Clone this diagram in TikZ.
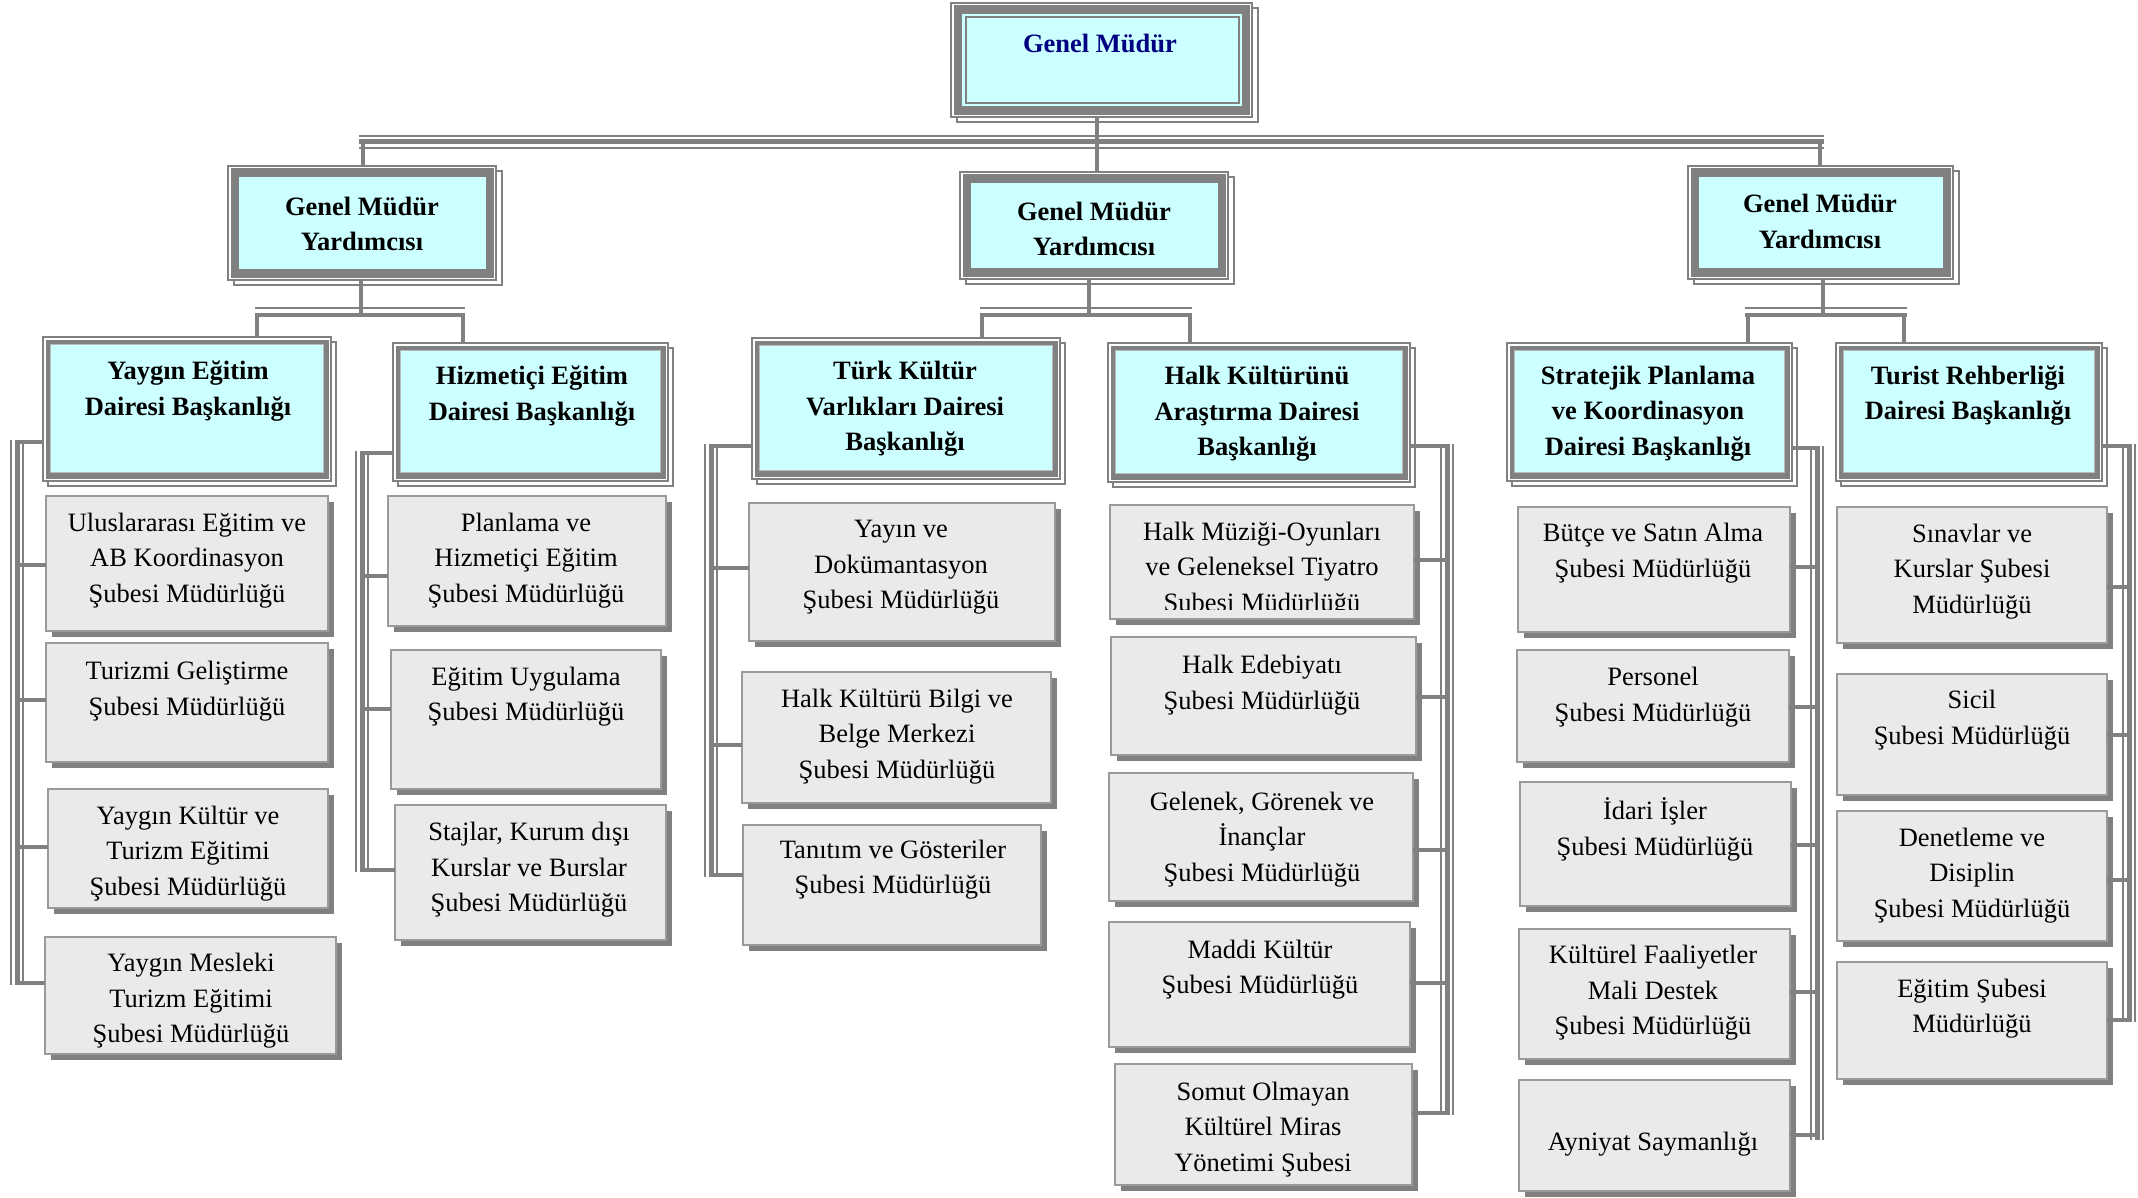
\documentclass[tikz,border=0pt]{standalone}
\usepackage{fontspec}
\setmainfont{Liberation Serif}
\definecolor{lg}{HTML}{808080}
\definecolor{cy}{HTML}{CCFFFF}
\definecolor{cf}{HTML}{EAEAEA}
\definecolor{cb}{HTML}{9A9A9A}
\definecolor{navy}{HTML}{000080}
\tikzset{
  ctext/.style={align=center, inner sep=0pt, font=\fontsize{26.5}{35.5}\selectfont},
  htext/.style={align=center, inner sep=0pt, font=\bfseries\fontsize{26.5}{35.5}\selectfont},
  cbox/.style={draw=cb, fill=cf, line width=2.5pt, inner sep=0pt, outer sep=0pt},
  obox/.style={draw=lg, fill=white, line width=2.5pt, inner sep=0pt, outer sep=0pt},
  vline/.style={draw=lg, line width=3.5pt},
  stubline/.style={draw=lg, line width=3.2pt},
  tbus/.style={draw=lg, line width=14pt, postaction={draw=white, line width=9.5pt}, postaction={draw=lg, line width=5pt}},
}
% child box: name, x1, y1, x2, y2, text x, text y, text
\newcommand\childbx[8]{%
  \fill[lg] ({#2+6},{#3+6}) rectangle ({#4+6},{#5+6});
  \node[cbox, minimum width={#4-#2}, minimum height={#5-#3}] (#1) at ({(#2+#4)/2},{(#3+#5)/2}) {};
  \node[ctext] (#1t) at (#6,{#7+2.5}) {#8};
}
% department head box
\newcommand\headbx[8]{%
  \draw[lg, line width=2.5pt, fill=white] ({#2+5},{#3+5}) rectangle ({#4+5},{#5+5});
  \node[obox, minimum width={#4-#2}, minimum height={#5-#3}] (#1) at ({(#2+#4)/2},{(#3+#5)/2}) {};
  \fill[lg] ({#2+3},{#3+3}) rectangle ({#4-2},{#5-2});
  \filldraw[fill=cy, draw=lg!55, line width=1pt] ({#2+7},{#3+7}) rectangle ({#4-8},{#5-9});
  \node[htext] (#1t) at (#6,{#7+2.5}) {#8};
}
% deputy box
\newcommand\gmybx[8]{%
  \draw[lg, line width=2pt, fill=white] ({#2+6},{#3+5}) rectangle ({#4+6},{#5+5});
  \node[obox, line width=2pt, minimum width={#4-#2}, minimum height={#5-#3}] (#1) at ({(#2+#4)/2},{(#3+#5)/2}) {};
  \fill[lg] ({#2+2.5},{#3+2.5}) rectangle ({#4-2},{#5-2});
  \fill[cy] ({#2+11},{#3+11}) rectangle ({#4-10},{#5-11});
  \node[htext] (#1t) at (#6,{#7+2}) {#8};
}
\newcommand\stubto[4]{%
  \coordinate (#1) at (#2,#3);
  \draw[stubline] (#1) -- (#1 -| #4);
}
\begin{document}
\begin{tikzpicture}[x=1pt, y=-1pt]
\useasboundingbox (0,0) rectangle (2138,1198);
\fill[white] (0,0) rectangle (2138,1198);

% ---- top
\gmybx{top}{951}{3}{1252}{117}{1100}{41.5}{\color{navy}Genel Müdür}
\draw[lg, line width=1.5pt] (966,17) rectangle (1239,103);

% ---- deputies
\gmybx{gmL}{228}{166}{496}{280}{362}{222}{Genel Müdür\\Yardımcısı}
\gmybx{gmC}{960}{172}{1228}{279}{1094}{227}{Genel Müdür\\Yardımcısı}
\gmybx{gmR}{1688}{166}{1953}{279}{1820}{219.5}{Genel Müdür\\Yardımcısı}

% ---- department heads
\headbx{yah}{43}{337}{331}{481}{188}{388.5}{Yaygın Eğitim\\Dairesi Başkanlığı}
\headbx{hih}{393}{343}{668}{481}{532}{393.5}{Hizmetiçi Eğitim\\Dairesi Başkanlığı}
\headbx{tkh}{752}{338}{1060}{479}{905}{406.7}{Türk Kültür\\Varlıkları Dairesi\\Başkanlığı}
\headbx{hkh}{1108}{343}{1410}{482}{1257}{411.7}{Halk Kültürünü\\Araştırma Dairesi\\Başkanlığı}
\headbx{sph}{1507}{343}{1792}{481}{1648}{411}{Stratejik Planlama\\ve Koordinasyon\\Dairesi Başkanlığı}
\headbx{trh}{1836}{343}{2102}{481}{1968}{393}{Turist Rehberliği\\Dairesi Başkanlığı}

% ---- children
\childbx{ya1}{46}{496}{328}{631}{187}{557.7}{Uluslararası Eğitim ve\\AB Koordinasyon\\Şubesi Müdürlüğü}
\childbx{ya2}{46}{643}{328}{762}{187}{688.5}{Turizmi Geliştirme\\Şubesi Müdürlüğü}
\childbx{ya3}{48}{789}{328}{908}{188}{850.7}{Yaygın Kültür ve\\Turizm Eğitimi\\Şubesi Müdürlüğü}
\childbx{ya4}{45}{937}{336}{1054}{191}{998.3}{Yaygın Mesleki\\Turizm Eğitimi\\Şubesi Müdürlüğü}

\childbx{hi1}{388}{496}{666}{626}{526}{557.7}{Planlama ve\\Hizmetiçi Eğitim\\Şubesi Müdürlüğü}
\childbx{hi2}{391}{650}{661}{789}{526}{694}{Eğitim Uygulama\\Şubesi Müdürlüğü}
\childbx{hi3}{395}{805}{666}{940}{529}{867.3}{Stajlar, Kurum dışı\\Kurslar ve Burslar\\Şubesi Müdürlüğü}

\childbx{tk1}{749}{503}{1055}{641}{901}{565}{Yayın ve\\Dokümantasyon\\Şubesi Müdürlüğü}
\childbx{tk2}{742}{672}{1051}{803}{897}{733.7}{Halk Kültürü Bilgi ve\\Belge Merkezi\\Şubesi Müdürlüğü}
\childbx{tk3}{743}{825}{1041}{945}{893}{867}{Tanıtım ve Gösteriler\\Şubesi Müdürlüğü}

\childbx{hk1}{1110}{505}{1414}{619}{1262}{566.7}{}
\begin{scope}
\clip (1110,505) rectangle (1414,609);
\node[ctext] (hk1c) at (1262,569.2) {Halk Müziği-Oyunları\\ve Geleneksel Tiyatro\\Şubesi Müdürlüğü};
\end{scope}
\childbx{hk2}{1111}{637}{1416}{755}{1262}{682.5}{Halk Edebiyatı\\Şubesi Müdürlüğü}
\childbx{hk3}{1109}{773}{1413}{901}{1262}{837}{Gelenek, Görenek ve\\İnançlar\\Şubesi Müdürlüğü}
\childbx{hk4}{1109}{922}{1410}{1047}{1260}{967}{Maddi Kültür\\Şubesi Müdürlüğü}
\childbx{hk5}{1115}{1064}{1412}{1185}{1263}{1127}{Somut Olmayan\\Kültürel Miras\\Yönetimi Şubesi}

\childbx{sp1}{1518}{507}{1790}{632}{1653}{550.5}{Bütçe ve Satın Alma\\Şubesi Müdürlüğü}
\childbx{sp2}{1517}{650}{1789}{762}{1653}{694.5}{Personel\\Şubesi Müdürlüğü}
\childbx{sp3}{1520}{782}{1791}{906}{1655}{827}{İdari İşler\\Şubesi Müdürlüğü}
\childbx{sp4}{1519}{929}{1790}{1059}{1653}{990.3}{Kültürel Faaliyetler\\Mali Destek\\Şubesi Müdürlüğü}
\childbx{sp5}{1519}{1080}{1790}{1191}{1653}{1142}{Ayniyat Saymanlığı}

\childbx{tr1}{1837}{507}{2107}{643}{1972}{568.7}{Sınavlar ve\\Kurslar Şubesi\\Müdürlüğü}
\childbx{tr2}{1837}{674}{2107}{795}{1972}{717.5}{Sicil\\Şubesi Müdürlüğü}
\childbx{tr3}{1837}{811}{2107}{941}{1972}{872.7}{Denetleme ve\\Disiplin\\Şubesi Müdürlüğü}
\childbx{tr4}{1837}{962}{2107}{1079}{1972}{1006}{Eğitim Şubesi\\Müdürlüğü}

% ---- top bus
\coordinate (tbL) at (359,142);
\coordinate (tbR) at (1824,142);
\draw[tbus] (tbL) -- (tbR);
\coordinate (tv) at (1097,0);
\draw[vline] (tv |- top.south) -- (tv |- gmC.north);
\coordinate (lv) at (363,142);
\draw[vline] (lv) -- (lv |- gmL.north);
\coordinate (rv) at (1820,142);
\draw[vline] (rv) -- (rv |- gmR.north);

% ---- sub buses
% left
\coordinate (lsa) at (255,308); \coordinate (lsb) at (465,308);
\coordinate (lsc) at (255,315); \coordinate (lsd) at (465,315);
\draw[lg, line width=2.6pt] (lsa) -- (lsb);
\draw[lg, line width=4.6pt] (lsc) -- (lsd);
\coordinate (ldn) at (361,315);
\draw[vline] (ldn |- gmL.south) -- (ldn);
\coordinate (lk1) at (257,315); \draw[vline] (lk1) -- (lk1 |- yah.north);
\coordinate (lk2) at (463,315); \draw[vline] (lk2) -- (lk2 |- hih.north);
% center
\coordinate (csa) at (980,308); \coordinate (csb) at (1192,308);
\coordinate (csc) at (980,315); \coordinate (csd) at (1192,315);
\draw[lg, line width=2.6pt] (csa) -- (csb);
\draw[lg, line width=4.6pt] (csc) -- (csd);
\coordinate (cdn) at (1089,315);
\draw[vline] (cdn |- gmC.south) -- (cdn);
\coordinate (ck1) at (982,315); \draw[vline] (ck1) -- (ck1 |- tkh.north);
\coordinate (ck2) at (1190,315); \draw[vline] (ck2) -- (ck2 |- hkh.north);
% right
\coordinate (rsa) at (1745,308); \coordinate (rsb) at (1907,308);
\coordinate (rsc) at (1745,315); \coordinate (rsd) at (1907,315);
\draw[lg, line width=2.6pt] (rsa) -- (rsb);
\draw[lg, line width=4.6pt] (rsc) -- (rsd);
\coordinate (rdn) at (1823,315);
\draw[vline] (rdn |- gmR.south) -- (rdn);
\coordinate (rk1) at (1748,315); \draw[vline] (rk1) -- (rk1 |- sph.north);
\coordinate (rk2) at (1904,315); \draw[vline] (rk2) -- (rk2 |- trh.north);

% ---- side buses
\coordinate (yaT) at (17,440); \coordinate (yaB) at (17,985);
\draw[tbus] (yaT) -- (yaB);
\stubto{ya0}{17}{442}{yah.west}
\stubto{yas1}{17}{565}{ya1.west}
\stubto{yas2}{17}{700}{ya2.west}
\stubto{yas3}{17}{847}{ya3.west}
\stubto{yas4}{17}{983}{ya4.west}

\coordinate (hiT) at (362,451); \coordinate (hiB) at (362,872);
\draw[tbus] (hiT) -- (hiB);
\stubto{hi0}{362}{453}{hih.west}
\stubto{his1}{362}{576}{hi1.west}
\stubto{his2}{362}{709}{hi2.west}
\stubto{his3}{362}{870}{hi3.west}

\coordinate (tkT) at (711,444); \coordinate (tkB) at (711,877);
\draw[tbus] (tkT) -- (tkB);
\stubto{tk0}{711}{446}{tkh.west}
\stubto{tks1}{711}{568}{tk1.west}
\stubto{tks2}{711}{745}{tk2.west}
\stubto{tks3}{711}{875}{tk3.west}

\coordinate (hkT) at (1447,444); \coordinate (hkB) at (1447,1115);
\draw[tbus] (hkT) -- (hkB);
\stubto{hk0}{1447}{446}{hkh.east}
\stubto{hks1}{1447}{560}{hk1.east}
\stubto{hks2}{1447}{697}{hk2.east}
\stubto{hks3}{1447}{850}{hk3.east}
\stubto{hks4}{1447}{983}{hk4.east}
\stubto{hks5}{1447}{1113}{hk5.east}

\coordinate (spT) at (1817,446); \coordinate (spB) at (1817,1140);
\draw[tbus] (spT) -- (spB);
\stubto{sp0}{1817}{448}{sph.east}
\stubto{sps1}{1817}{567}{sp1.east}
\stubto{sps2}{1817}{707}{sp2.east}
\stubto{sps3}{1817}{845}{sp3.east}
\stubto{sps4}{1817}{992}{sp4.east}
\stubto{sps5}{1817}{1135}{sp5.east}

\coordinate (trT) at (2129,444); \coordinate (trB) at (2129,1022);
\draw[tbus] (trT) -- (trB);
\stubto{tr0}{2129}{446}{trh.east}
\stubto{trs1}{2129}{587}{tr1.east}
\stubto{trs2}{2129}{735}{tr2.east}
\stubto{trs3}{2129}{880}{tr3.east}
\stubto{trs4}{2129}{1020}{tr4.east}
\end{tikzpicture}
\end{document}
